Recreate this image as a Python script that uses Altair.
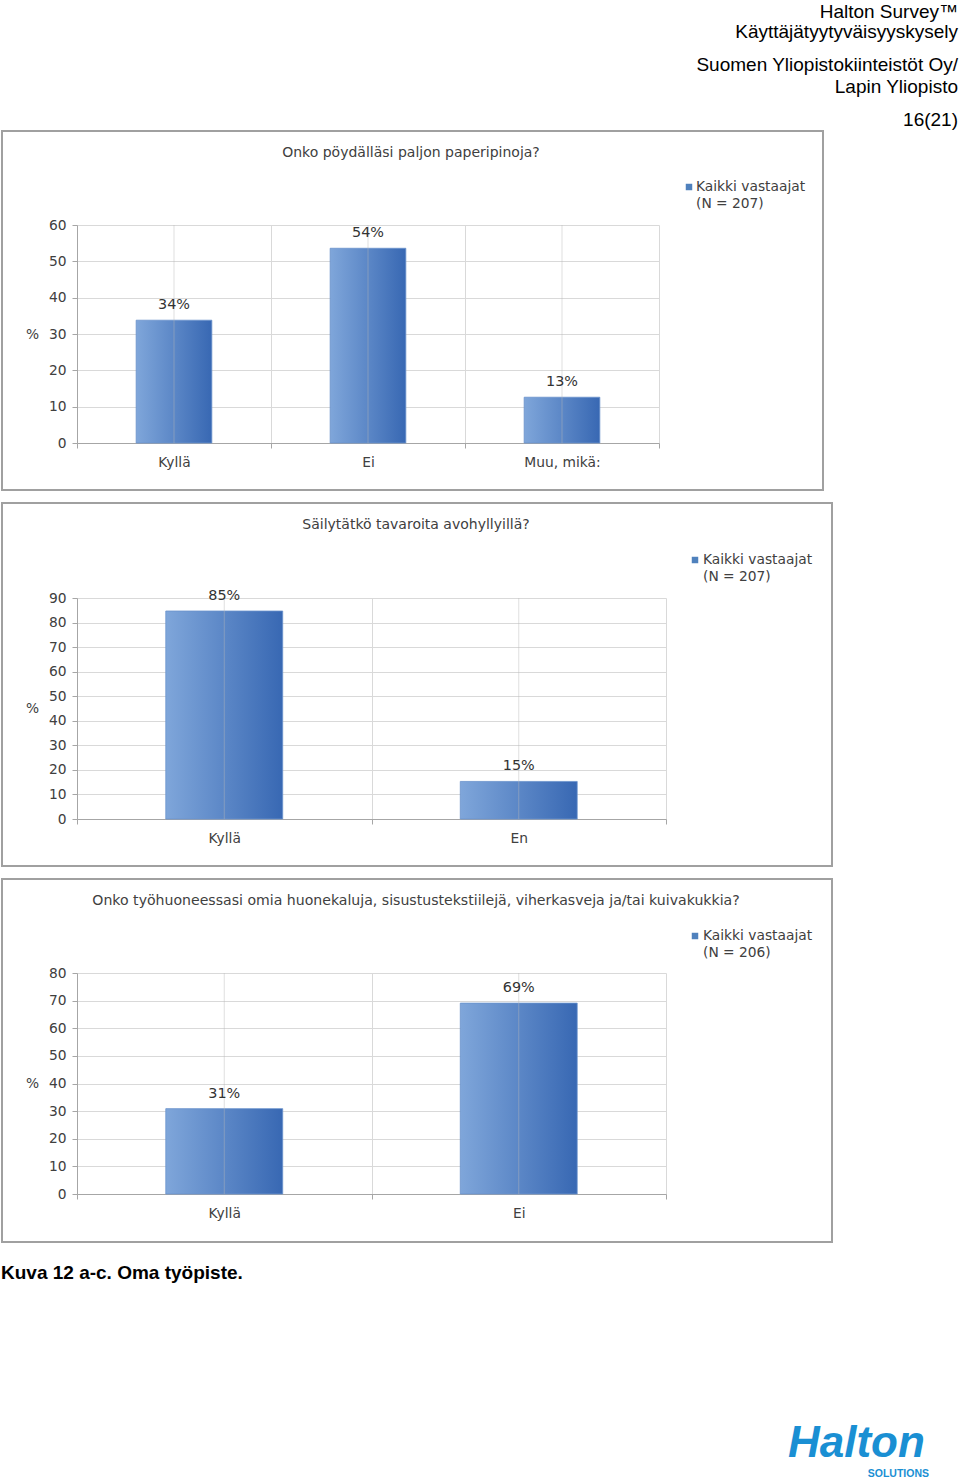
import altair as alt
import pandas as pd

# ---------------- data ----------------
header_lines = ["Halton Survey™", "Käyttäjätyytyväisyyskysely",
                "Suomen Yliopistokiinteistöt Oy/", "Lapin Yliopisto", "16(21)"]
caption = "Kuva 12 a-c. Oma työpiste."
logo_main = "Halton"
logo_sub = "SOLUTIONS"
legend_label = "Kaikki vastaajat"

q1_title = "Onko pöydälläsi paljon paperipinoja?"
q1_cats = ["Kyllä", "Ei", "Muu, mikä:"]
q1_vals = [33.8, 53.6, 12.6]
q1_labels = ["34%", "54%", "13%"]
q1_n = "(N = 207)"
q1_ticks = [0, 10, 20, 30, 40, 50, 60]

q2_title = "Säilytätkö tavaroita avohyllyillä?"
q2_cats = ["Kyllä", "En"]
q2_vals = [84.7, 15.3]
q2_labels = ["85%", "15%"]
q2_n = "(N = 207)"
q2_ticks = [0, 10, 20, 30, 40, 50, 60, 70, 80, 90]

q3_title = "Onko työhuoneessasi omia huonekaluja, sisustustekstiilejä, viherkasveja ja/tai kuivakukkia?"
q3_cats = ["Kyllä", "Ei"]
q3_vals = [30.9, 69.1]
q3_labels = ["31%", "69%"]
q3_n = "(N = 206)"
q3_ticks = [0, 10, 20, 30, 40, 50, 60, 70, 80]

# ---------------- style ----------------
FONT = "DejaVu Sans"
HFONT = "Liberation Sans"
TXT = "#404040"
GRID = "#d9d9d9"
AXC = "#a6a6a6"
FRAME = "#a0a0a0"
PAGE_W = 960
X0 = 77                 # page x of every plot origin
RIGHT = PAGE_W - X0     # right page edge relative to plot origin
FS = 13.8               # chart text size

grad = alt.LinearGradient(
    gradient="linear",
    stops=[alt.GradientStop(color="#7fa6da", offset=0),
           alt.GradientStop(color="#3868b3", offset=1)],
    x1=0, x2=1, y1=0, y2=0)


def one():
    return alt.Data(values=[{}])


def txt(text, x, y, **kw):
    return alt.Chart(alt.Data(values=[{"t": text}])).mark_text(**kw).encode(
        x=alt.value(x), y=alt.value(y), text="t:N")


def region(y0, y1):
    return alt.Chart(one()).mark_rect(fill="transparent", opacity=0).encode(
        x=alt.value(-X0), x2=alt.value(RIGHT), y=alt.value(y0), y2=alt.value(y1))


def panel(title, cats, vals, labels, n, ticks, plot_w, plot_h, reg_top, reg_bot,
          frame_top, frame_bot, frame_right, band_frac, title_x, title_y, title_size,
          leg_sq_x, leg_x, leg_y):
    df = pd.DataFrame({"cat": cats, "val": vals, "lab": labels})
    base = alt.Chart(df)
    xenc = alt.X("cat:N", sort=cats, title=None,
                 scale=alt.Scale(paddingInner=0, paddingOuter=0),
                 axis=alt.Axis(tickBand="extent", grid=True, gridColor=GRID,
                               domainColor=AXC, tickColor=AXC, tickSize=5,
                               labelAngle=0, labelPadding=7, labelFont=FONT,
                               labelFontSize=FS, labelColor=TXT))
    yenc = alt.Y("val:Q", title="%",
                 scale=alt.Scale(domain=[0, ticks[-1]], nice=False),
                 axis=alt.Axis(values=ticks, grid=True, gridColor=GRID,
                               labelOverlap=False,
                               domainColor=AXC, tickColor=AXC, tickSize=5,
                               labelPadding=6, labelFont=FONT, labelFontSize=FS,
                               labelColor=TXT, titleAngle=0, titleX=-45,
                               titleY=plot_h / 2, titleAlign="center",
                               titleBaseline="middle", titleFont=FONT,
                               titleFontSize=FS, titleFontWeight="normal",
                               titleColor=TXT))
    bounds = region(reg_top, reg_bot)
    frame = alt.Chart(one()).mark_rect(fill="transparent", stroke=FRAME,
                                       strokeWidth=2).encode(
        x=alt.value(-75), x2=alt.value(frame_right),
        y=alt.value(frame_top), y2=alt.value(frame_bot))
    bars = base.mark_bar(color=grad, width=alt.RelativeBandSize(band_frac),
                         stroke="#6a92cb", strokeWidth=0.8).encode(x=xenc, y=yenc)
    centre = base.mark_rule(color="#b8b8b8", strokeWidth=1, opacity=0.45).encode(
        x=xenc, y=alt.value(0), y2=alt.value(plot_h))
    vlabels = base.mark_text(dy=-15, baseline="middle", font=FONT, fontSize=14.4,
                             color="#333333").encode(x=xenc, y=yenc, text="lab:N")
    sq = alt.Chart(one()).mark_square(size=42, color="#4f81bd", opacity=1).encode(
        x=alt.value(leg_sq_x), y=alt.value(leg_y))
    l1 = txt(legend_label, leg_x, leg_y, align="left", baseline="middle",
             font=FONT, fontSize=FS, color=TXT)
    l2 = txt(n, leg_x, leg_y + 17, align="left", baseline="middle",
             font=FONT, fontSize=FS, color=TXT)
    ttl = txt(title, title_x, title_y, align="center", baseline="middle",
              font=FONT, fontSize=title_size, color=TXT)
    return alt.layer(bounds, frame, bars, centre, vlabels, sq, l1, l2, ttl).properties(
        width=plot_w, height=plot_h)


# ---------------- header ----------------
hdr_base = [17.5, 38, 71, 93, 126]
hdr_layers = [region(0, 130)]
for line, yb in zip(header_lines, hdr_base):
    hdr_layers.append(txt(line, 958 - X0, yb, align="right", baseline="alphabetic",
                          font=HFONT, fontSize=19, color="#000000"))
header = alt.layer(*hdr_layers).properties(width=RIGHT, height=130)

p1 = panel(q1_title, q1_cats, q1_vals, q1_labels, q1_n, q1_ticks,
           plot_w=582, plot_h=218, reg_top=-95, reg_bot=272,
           frame_top=-94, frame_bot=265, frame_right=746, band_frac=0.39,
           title_x=334, title_y=-72, title_size=14,
           leg_sq_x=612, leg_x=619, leg_y=-38)
p2 = panel(q2_title, q2_cats, q2_vals, q2_labels, q2_n, q2_ticks,
           plot_w=589, plot_h=221, reg_top=-101, reg_bot=275,
           frame_top=-95, frame_bot=268, frame_right=755, band_frac=0.397,
           title_x=339, title_y=-73, title_size=14,
           leg_sq_x=618, leg_x=626, leg_y=-38)
p3 = panel(q3_title, q3_cats, q3_vals, q3_labels, q3_n, q3_ticks,
           plot_w=589, plot_h=221, reg_top=-100, reg_bot=277,
           frame_top=-94, frame_bot=269, frame_right=755, band_frac=0.397,
           title_x=339, title_y=-72, title_size=14.1,
           leg_sq_x=618, leg_x=626, leg_y=-37)

# ---------------- footer ----------------
footer = alt.layer(
    region(0, 227),
    txt(caption, 1 - X0, 29, align="left", baseline="alphabetic", font=HFONT,
        fontSize=19, fontWeight="bold", color="#000000"),
    txt(logo_main, 788 - X0, 207, align="left", baseline="alphabetic", font=HFONT,
        fontSize=44, fontWeight="bold", fontStyle="italic", color="#1a8fd3"),
    txt(logo_sub, 929 - X0, 227, align="right", baseline="alphabetic", font=HFONT,
        fontSize=10.5, fontWeight="bold", color="#1a8fd3"),
).properties(width=RIGHT, height=227)

chart = alt.vconcat(header, p1, p2, p3, footer, spacing=0).properties(
    padding=0, background="white"
).configure_view(stroke=None)

chart.save("out.html", embed_options={"renderer": "svg", "actions": False})
